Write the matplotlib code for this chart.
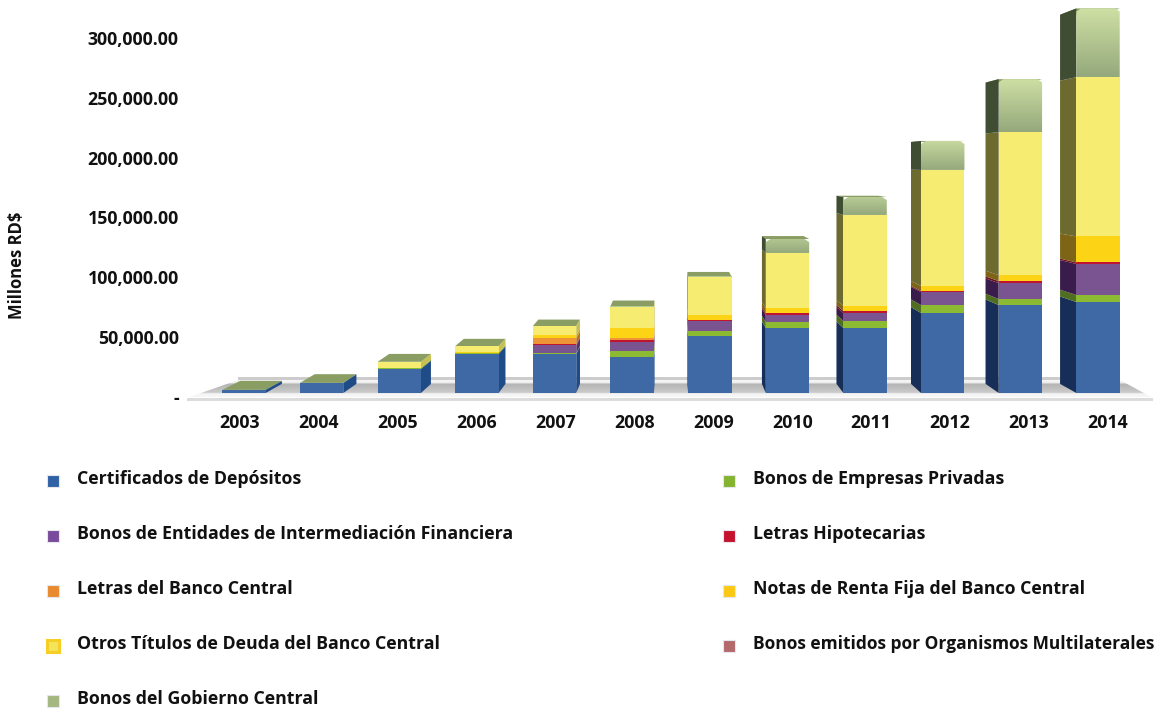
import numpy as np
import matplotlib
matplotlib.use("Agg")
import matplotlib.pyplot as plt
from matplotlib.patches import Polygon, Patch, Rectangle
from matplotlib.legend_handler import HandlerPatch
from matplotlib.colors import LinearSegmentedColormap, to_rgb
from matplotlib.ticker import FuncFormatter
from matplotlib.transforms import ScaledTranslation

plt.rcParams['font.family'] = ['Open Sans', 'DejaVu Sans']
plt.rcParams['font.weight'] = 'bold'

years = [2003, 2004, 2005, 2006, 2007, 2008, 2009, 2010, 2011, 2012, 2013, 2014]
certificados = [2600, 8500, 20500, 33300, 33300, 30700, 48600, 55400, 55400, 68200, 75000, 77600]
empresas = [0, 0, 900, 900, 400, 5100, 4300, 5100, 6000, 6800, 5100, 6000]
entidades = [0, 0, 0, 0, 6800, 7700, 8500, 6000, 6800, 11100, 13600, 26400]
hipotecarias = [0, 0, 0, 0, 900, 1700, 900, 1700, 1700, 900, 1700, 1300]
letras_bc = [0, 0, 0, 0, 5100, 1700, 0, 0, 0, 0, 0, 0]
notas = [0, 0, 0, 600, 2600, 8500, 4300, 4300, 4300, 4300, 5100, 22200]
otros = [0, 0, 5100, 5100, 7900, 18300, 32300, 46900, 77600, 98900, 121900, 135800]
multilaterales = [0, 0, 0, 0, 0, 0, 0, 0, 0, 0, 0, 0]
gobierno = [100, 100, 100, 100, 100, 300, 500, 11900, 15300, 24700, 45200, 58600]

series = [certificados, empresas, entidades, hipotecarias, letras_bc, notas, otros, multilaterales, gobierno]
names = ['Certificados de Depósitos', 'Bonos de Empresas Privadas',
         'Bonos de Entidades de Intermediación Financiera', 'Letras Hipotecarias',
         'Letras del Banco Central', 'Notas de Renta Fija del Banco Central',
         'Otros Títulos de Deuda del Banco Central', 'Bonos emitidos por Organismos Multilaterales',
         'Bonos del Gobierno Central']
front = ['#3f69a5', '#8dba33', '#7a5490', '#c0142f', '#ee9336', '#fdd316', '#f7ec72', '#b46a6a', '#b5ca95']
left_side = ['#172f58', '#4f6e1f', '#3a1c4c', '#6e0f20', '#7c4d15', '#7d6416', '#6c6a2e', '#5e3a3a', '#3f4d33']
right_side = ['#1f4b86', '#6d9226', '#55366b', '#8f1025', '#b96f20', '#c9a510', '#c5c04f', '#8a5f5f', '#75885a']
legend_face = ['#2f62a5', '#83b32f', '#7a4b9a', '#c4122f', '#e88a2d', '#fbc914', '#f3e45a', '#b46a6a', '#a3b77f']

W, H = 1159, 711
fig = plt.figure(figsize=(W / 100, H / 100), dpi=100, facecolor='white')
L, R, B, T = 187, 1153, 397.5, 0
ax = fig.add_axes([L / W, 1 - B / H, (R - L) / W, (B - T) / H])
for s in ax.spines.values():
    s.set_visible(False)
ax.set_autoscale_on(False)

def X(px):
    return (px - 240) / 78.9

def Y(py):
    return (397.5 - py) / 59.8 * 50000

xlim = (X(L), X(R))
ylim = (0, Y(T))
vx, vy = X(670), Y(165)
s_bar_y = 0.9806
depth = 0.96
half = 0.275
centre0, centre_step = 0.0507, 0.984

def plane_y(v):
    return vy + s_bar_y * (v - vy)

def back_x(x):
    return vx + depth * (x - vx)

def back_y(y):
    return vy + depth * (y - vy)

# floor
grad = np.linspace(0, 1, 128).reshape(-1, 1)
floor_cmap = LinearSegmentedColormap.from_list(
    'f', [(0, '#f6f6f6'), (0.2, '#f6f6f6'), (0.27, '#cbcbcb'), (0.72, '#b4b4b4'), (0.82, '#f4f4f4'), (1, '#f4f4f4')])
floor_poly = Polygon([(X(187), Y(398)), (X(1153), Y(398)), (X(1120), Y(380)), (X(238), Y(380))],
                     closed=True, fc='none', ec='none', clip_on=False)
ax.add_patch(floor_poly)
im = ax.imshow(grad, extent=(X(187), X(1153), Y(398), Y(380)), origin='lower', aspect='auto',
               cmap=floor_cmap, zorder=1)
im.set_clip_path(floor_poly)
ax.add_patch(Polygon([(X(187), Y(398)), (X(1153), Y(398)), (X(1153), Y(401)), (X(187), Y(401))],
                     fc='#dcdcdc', ec='none', clip_on=False, zorder=1))
ax.add_patch(Polygon([(X(238), Y(380)), (X(1120), Y(380)), (X(1120), Y(377.5)), (X(238), Y(377.5))],
                     fc='#cccccc', ec='none', clip_on=False, zorder=1))

# bars
gov_low = np.array(to_rgb('#9fb585'))
gov_high = np.array(to_rgb('#cfe0a4'))
for i in range(len(years)):
    cx = centre0 + centre_step * i
    x0, x1 = cx - half, cx + half
    bx0, bx1 = back_x(x0), back_x(x1)
    base = 0
    total = sum(sr[i] for sr in series)
    ft, bt = plane_y(total), back_y(plane_y(total))
    ax.add_patch(Polygon([(x0, ft), (x1, ft), (bx1, bt), (bx0, bt)], fc='#8a9e64', ec='none', zorder=2))
    for k, sr in enumerate(series):
        v = sr[i]
        if v <= 0:
            continue
        y0, y1 = plane_y(base), plane_y(base + v)
        by0, by1 = back_y(y0), back_y(y1)
        if bx0 < x0:
            ax.add_patch(Polygon([(x0, y0), (x0, y1), (bx0, by1), (bx0, by0)], fc=left_side[k], ec='none', zorder=3))
        if bx1 > x1:
            ax.add_patch(Polygon([(x1, y0), (x1, y1), (bx1, by1), (bx1, by0)], fc=right_side[k], ec='none', zorder=3))
        if k == 8 and v > 5000:
            ch_x, ch_y = 0.06, 2600
            clip = Polygon([(x0, y0), (x1, y0), (x1, y1 - ch_y), (x1 - ch_x, y1), (x0 + ch_x, y1), (x0, y1 - ch_y)],
                           fc='none', ec='none', zorder=4)
            ax.add_patch(clip)
            t = min(1.0, v / 30000)
            cm = LinearSegmentedColormap.from_list('g', [gov_low * 0.93, gov_low + (gov_high - gov_low) * t])
            g = ax.imshow(grad, extent=(x0, x1, y0, y1), origin='lower', aspect='auto', cmap=cm, zorder=4)
            g.set_clip_path(clip)
        else:
            ax.add_patch(Polygon([(x0, y0), (x1, y0), (x1, y1), (x0, y1)], fc=front[k], ec='none', zorder=4))
        base += v

ax.set_xlim(*xlim)
ax.set_ylim(*ylim)
ax.set_xticks(range(len(years)))
ax.set_xticklabels(years)
ax.set_yticks(np.arange(0, 300001, 50000))
ax.yaxis.set_major_formatter(FuncFormatter(lambda v, p: '-' if v == 0 else f'{v:,.2f}'))
ax.tick_params(axis='x', length=0, pad=12, labelsize=12.8, colors='#111111')
ax.tick_params(axis='y', length=0, pad=6, labelsize=12.8, colors='#111111')
up = ScaledTranslation(0, 0.5 / 72, fig.dpi_scale_trans)
for lab in ax.get_yticklabels():
    lab.set_transform(lab.get_transform() + up)
fig.text(17 / W, 1 - 265 / H, 'Millones RD$', rotation=90, ha='center', va='center',
         fontsize=12, fontweight='bold', color='#111111')

# legend
def low_marker(legend, orig_handle, xdescent, ydescent, width, height, fontsize):
    return Rectangle((-xdescent, -ydescent - 2.2), width, height)

order = [0, 2, 4, 6, 8, 1, 3, 5, 7]
handles = []
for k in order:
    if k == 6:
        handles.append(Patch(fc=legend_face[k], ec='#f5cf25', lw=2.2, label=names[k]))
    else:
        handles.append(Patch(fc=legend_face[k], ec='#e6e6ee', lw=0.8, label=names[k]))
leg = fig.legend(handles=handles, ncols=2, loc='upper left', bbox_to_anchor=(47 / W, 1 - 470.5 / H),
                 bbox_transform=fig.transFigure, borderaxespad=0, borderpad=0, frameon=False,
                 fontsize=12.8, handlelength=0.67, handleheight=0.67, handletextpad=1.02,
                 labelspacing=2.08, columnspacing=11.8, labelcolor='#111111',
                 handler_map={Patch: HandlerPatch(patch_func=low_marker)})
leg.get_texts()[8].set_fontsize(12.5)

fig.savefig('out.png', dpi=100, facecolor='white')
